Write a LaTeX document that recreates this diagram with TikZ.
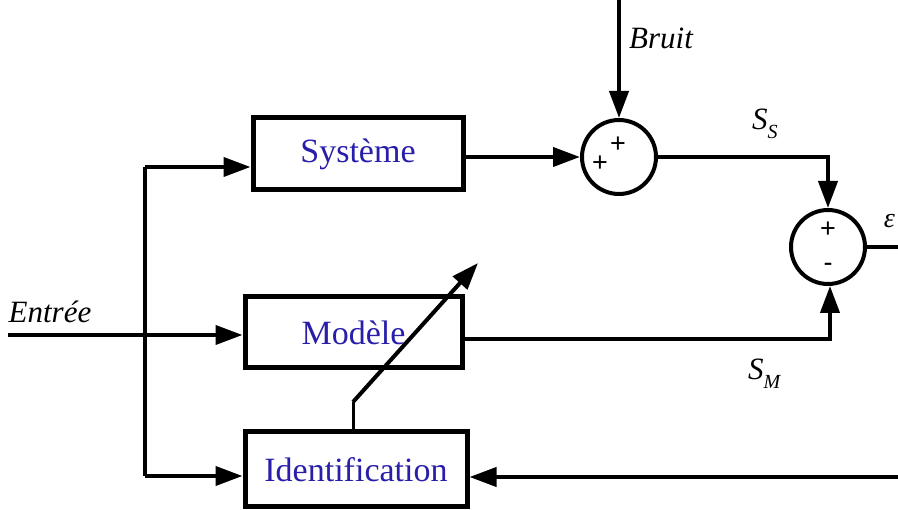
\documentclass[tikz,border=0pt]{standalone}
\usepackage{fontspec}
\setmainfont{Liberation Serif}
\newfontfamily\signfont{Liberation Sans}
\usetikzlibrary{arrows.meta}
\definecolor{boxblue}{RGB}{40,30,170}
\begin{document}
\begin{tikzpicture}[x=1pt,y=-1pt,line width=4pt,
  blk/.style={draw,line width=5pt,rectangle,inner sep=0pt,text=boxblue,font=\fontsize{34}{38}\selectfont},
  sumnode/.style={draw,circle,line width=4pt,minimum size=74pt,inner sep=0pt},
  lbl/.style={inner sep=0pt,font=\fontsize{31}{34}\selectfont\itshape},
  sgn/.style={inner sep=0pt,font=\signfont\fontsize{27}{30}\selectfont},
  arr/.style={-{Triangle[length=27pt,width=19pt]}}]
\useasboundingbox (0,0) rectangle (898,510);
% blocks
\node[blk,minimum width=210pt,minimum height=72pt] (sys) at (358,154) {Système};
\node[blk,minimum width=217pt,minimum height=71pt] (mod) at (353.5,332.5) {Modèle};
\node[blk,minimum width=222pt,minimum height=75pt] (id) at (356,469.5) {Identification};
% summing junctions
\node[sumnode] (s1) at (619,157) {};
\node[sumnode] (s2) at (828,247) {};
\node[sgn] (p1) at (618,145) {+};
\node[sgn] (p2) at (600,164) {+};
\node[sgn] (p3) at (828,230) {+};
\node[sgn] (m3) at (828,267) {-};
% labels
\node[lbl,font=\fontsize{31}{34}\selectfont\itshape] (bruit) at (661,38) {Bruit};
\node[lbl] (entree) at (50,312) {Entrée};
\node[lbl,anchor=west] (ss) at (750,124) {S\raisebox{-9pt}{\fontsize{20}{22}\selectfont S}};
\node[lbl,anchor=west] (sm) at (746,374) {S\raisebox{-9pt}{\fontsize{20}{22}\selectfont M}};
\node[lbl,anchor=east,font=\fontsize{28}{30}\selectfont\itshape] (eps) at (897,221) {ε};
% coordinates
\coordinate (in) at (8,335);
\coordinate (sp1) at (145,167);
\coordinate (sp2) at (145,476);
\coordinate (br) at (619,0);
\coordinate (c1) at (828,157);
\coordinate (c2) at (830,339);
\coordinate (eo) at (898,247);
\coordinate (fb) at (898,477);
\coordinate (a0) at (353,402);
\coordinate (a1) at (478,263);
% connectors
\draw[arr] (in) -- (in -| mod.west);
\draw (sp1) -- (sp2);
\draw[arr] (sp1) -- (sp1 -| sys.west);
\draw[arr] (sp2) -- (sp2 -| id.west);
\draw[arr] (sys.east |- s1) -- (s1.west);
\draw[arr] (br) -- (s1.north);
\draw[arr] (s1.east) -- (c1) -- (s2.north);
\draw[arr] (mod.east |- c2) -- (c2) -- (c2 |- s2.south);
\draw (s2.east) -- (eo);
\draw[arr] (fb) -- (fb -| id.east);
\draw[line width=3pt] (id.north -| a0) -- (a0);
\draw[arr] (a0) -- (a1);
\end{tikzpicture}
\end{document}
